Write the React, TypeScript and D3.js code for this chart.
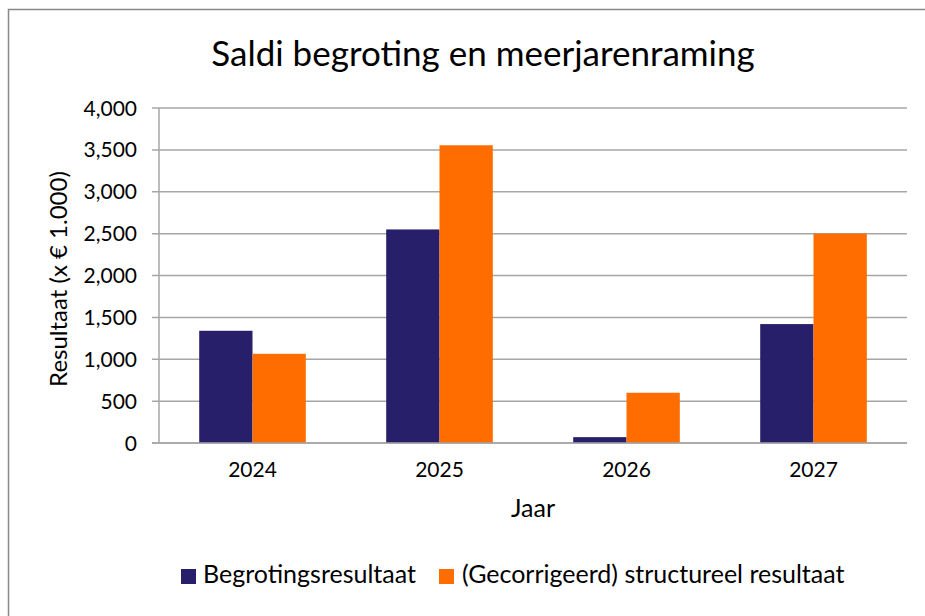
import React from 'react';
import * as d3 from 'd3';

const years = ['2024', '2025', '2026', '2027'];
const seriesNames = ['Begrotingsresultaat', '(Gecorrigeerd) structureel resultaat'];
const begroting = [1340, 2550, 70, 1420];
const structureel = [1065, 3555, 600, 2500];
const yTicks = [0, 500, 1000, 1500, 2000, 2500, 3000, 3500, 4000];
const colors = ['#281F6B', '#FF6C00'];

const W = 925;
const H = 616;
const font = 'Lato, "Open Sans", sans-serif';

export default function App() {
  const x = d3.scaleBand().domain(years).range([159, 907]).paddingInner(0.43).paddingOuter(0.215);
  const x1 = d3.scaleBand().domain(['0', '1']).range([0, x.bandwidth()]);
  const y = d3.scaleLinear().domain([0, 4000]).range([443, 108]);
  const fmt = d3.format(',');
  const series = [begroting, structureel];

  return (
    <svg width={W} height={H} style={{ display: 'block', position: 'absolute', left: 0, top: 0 }} fontFamily={font}>
      <rect x={0} y={0} width={W} height={H} fill="#fff" />
      <rect x={8.5} y={9.5} width={W + 10} height={H + 10} fill="none" stroke="#888" strokeWidth={1.5} />
      <text x={483} y={66} textAnchor="middle" fontSize={35} fill="#000">Saldi begroting en meerjarenraming</text>

      {yTicks.map(t => (
        <g key={t}>
          <line x1={152} x2={907} y1={y(t)} y2={y(t)} stroke="#a6a6a6" strokeWidth={1.5} />
          <text x={137} y={y(t)} dy="0.36em" textAnchor="end" fontSize={21} fill="#000">{fmt(t)}</text>
        </g>
      ))}
      <line x1={159} x2={159} y1={y(4000)} y2={y(0)} stroke="#a6a6a6" strokeWidth={1.5} />

      {series.map((vals, si) =>
        vals.map((v, i) => (
          <rect
            key={si + '-' + i}
            x={(x(years[i]) as number) + (x1(String(si)) as number)}
            y={y(v)}
            width={x1.bandwidth()}
            height={y(0) - y(v)}
            fill={colors[si]}
          />
        ))
      )}
      <line x1={152} x2={907} y1={y(0)} y2={y(0)} stroke="#a6a6a6" strokeWidth={1.5} />

      {years.map(yr => (
        <text key={yr} x={(x(yr) as number) + x.bandwidth() / 2} y={477} textAnchor="middle" fontSize={21} fill="#000">{yr}</text>
      ))}
      <text x={533} y={517} textAnchor="middle" fontSize={25} fill="#000">Jaar</text>
      <text transform="translate(67,279) rotate(-90)" textAnchor="middle" fontSize={24} fill="#000">Resultaat (x € 1.000)</text>

      <g>
        <rect x={181} y={569} width={15} height={15} fill={colors[0]} />
        <text x={203} y={583} fontSize={25} fill="#000">{seriesNames[0]}</text>
        <rect x={439} y={569} width={15} height={15} fill={colors[1]} />
        <text x={462} y={583} fontSize={25} fill="#000">{seriesNames[1]}</text>
      </g>
    </svg>
  );
}
